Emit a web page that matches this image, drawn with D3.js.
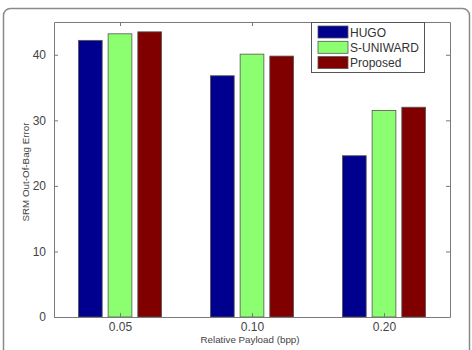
<!DOCTYPE html>
<html>
<head>
<meta charset="utf-8">
<script src="https://cdn.jsdelivr.net/npm/d3@7"></script>
<style>
  body { margin: 0; background: #fff; }
  svg { display: block; }
</style>
</head>
<body>
<div id="chart"></div>
<script>
// data
var payloads = ['0.05', '0.10', '0.20'];
var methods = ['HUGO', 'S-UNIWARD', 'Proposed'];
var hugo = [42.2, 36.8, 24.6];
var suniward = [43.2, 40.1, 31.5];
var proposed = [43.5, 39.8, 32.0];
var yTicks = [0, 10, 20, 30, 40];

var colors = ['#00008f', '#8cff70', '#800000'];
var series = [hugo, suniward, proposed];

const width = 472;
const height = 350;
const mLeft = 54, mRight = 450, mTop = 22, mBottom = 317;

const svg = d3.select('#chart').append('svg')
    .attr('width', width)
    .attr('height', height);

// outer rounded frame
svg.append('rect')
    .attr('x', 3.5)
    .attr('y', 8.5)
    .attr('width', 466)
    .attr('height', 360)
    .attr('rx', 7)
    .attr('fill', 'white')
    .attr('stroke', '#8a8a8a')
    .attr('stroke-width', 1.5);

var x = d3.scaleLinear().domain([0.5, 3.5]).range([mLeft, mRight]);
var y = d3.scaleLinear().domain([0, 45]).range([mBottom, mTop]);

var barW = 0.18;
var step = 0.225;

let g = svg.append('g');

// bars
series.forEach(function (vals, s) {
    g.selectAll('.bar' + s)
        .data(vals)
        .enter()
        .append('rect')
        .attr('x', (d, i) => x(i + 1 + (s - 1) * step - barW / 2))
        .attr('y', d => y(d))
        .attr('width', x(barW) - x(0))
        .attr('height', d => y(0) - y(d))
        .attr('fill', colors[s])
        .attr('stroke', '#555')
        .attr('stroke-width', 0.8);
});

// axes (matlab style box with inward ticks)
var axisColor = '#7a7a7a';
var tickFont = 'Arial, "Liberation Sans", sans-serif';

const yAxis = d3.axisLeft(y).tickValues(yTicks).tickSizeInner(-4).tickSizeOuter(0).tickPadding(8);
const yAxisR = d3.axisRight(y).tickValues(yTicks).tickSizeInner(-4).tickSizeOuter(0).tickFormat('');
const xAxis = d3.axisBottom(x).tickValues([1, 2, 3]).tickSizeInner(-4).tickSizeOuter(0)
    .tickPadding(5).tickFormat((d, i) => payloads[i]);
const xAxisT = d3.axisTop(x).tickValues([1, 2, 3]).tickSizeInner(-4).tickSizeOuter(0).tickFormat('');

function style(sel) {
    sel.selectAll('path').attr('stroke', axisColor);
    sel.selectAll('line').attr('stroke', axisColor);
    sel.selectAll('text')
        .attr('fill', '#444')
        .attr('font-size', 12)
        .style('font-family', tickFont);
}

svg.append('g').attr('transform', 'translate(' + mLeft + ',0)').call(yAxis).call(style);
svg.append('g').attr('transform', 'translate(' + mRight + ',0)').call(yAxisR).call(style);
svg.append('g').attr('transform', 'translate(0,' + mBottom + ')').call(xAxis).call(style);
svg.append('g').attr('transform', 'translate(0,' + mTop + ')').call(xAxisT).call(style);

// axis titles
svg.append('text')
    .attr('x', 250)
    .attr('y', 343)
    .attr('text-anchor', 'middle')
    .attr('fill', '#444')
    .attr('font-size', 9.8)
    .style('font-family', tickFont)
    .text('Relative Payload (bpp)');

svg.append('text')
    .attr('transform', 'translate(29,172) rotate(-90)')
    .attr('text-anchor', 'middle')
    .attr('fill', '#444')
    .attr('font-size', 9.8)
    .style('font-family', tickFont)
    .text('SRM Out-Of-Bag Error');

// legend
const legend = svg.append('g');
legend.append('rect')
    .attr('x', 311.5)
    .attr('y', 22.5)
    .attr('width', 113)
    .attr('height', 50)
    .attr('fill', 'white')
    .attr('stroke', '#555')
    .attr('stroke-width', 1);

methods.forEach(function (m, i) {
    legend.append('rect')
        .attr('x', 318)
        .attr('y', 26 + i * 15.3)
        .attr('width', 30)
        .attr('height', 12)
        .attr('fill', colors[i])
        .attr('stroke', '#555')
        .attr('stroke-width', 0.8);
    legend.append('text')
        .attr('x', 350)
        .attr('y', 36.8 + i * 15.2)
        .attr('fill', '#333')
        .attr('font-size', 12)
        .style('font-family', tickFont)
        .text(m);
});
</script>
</body>
</html>
